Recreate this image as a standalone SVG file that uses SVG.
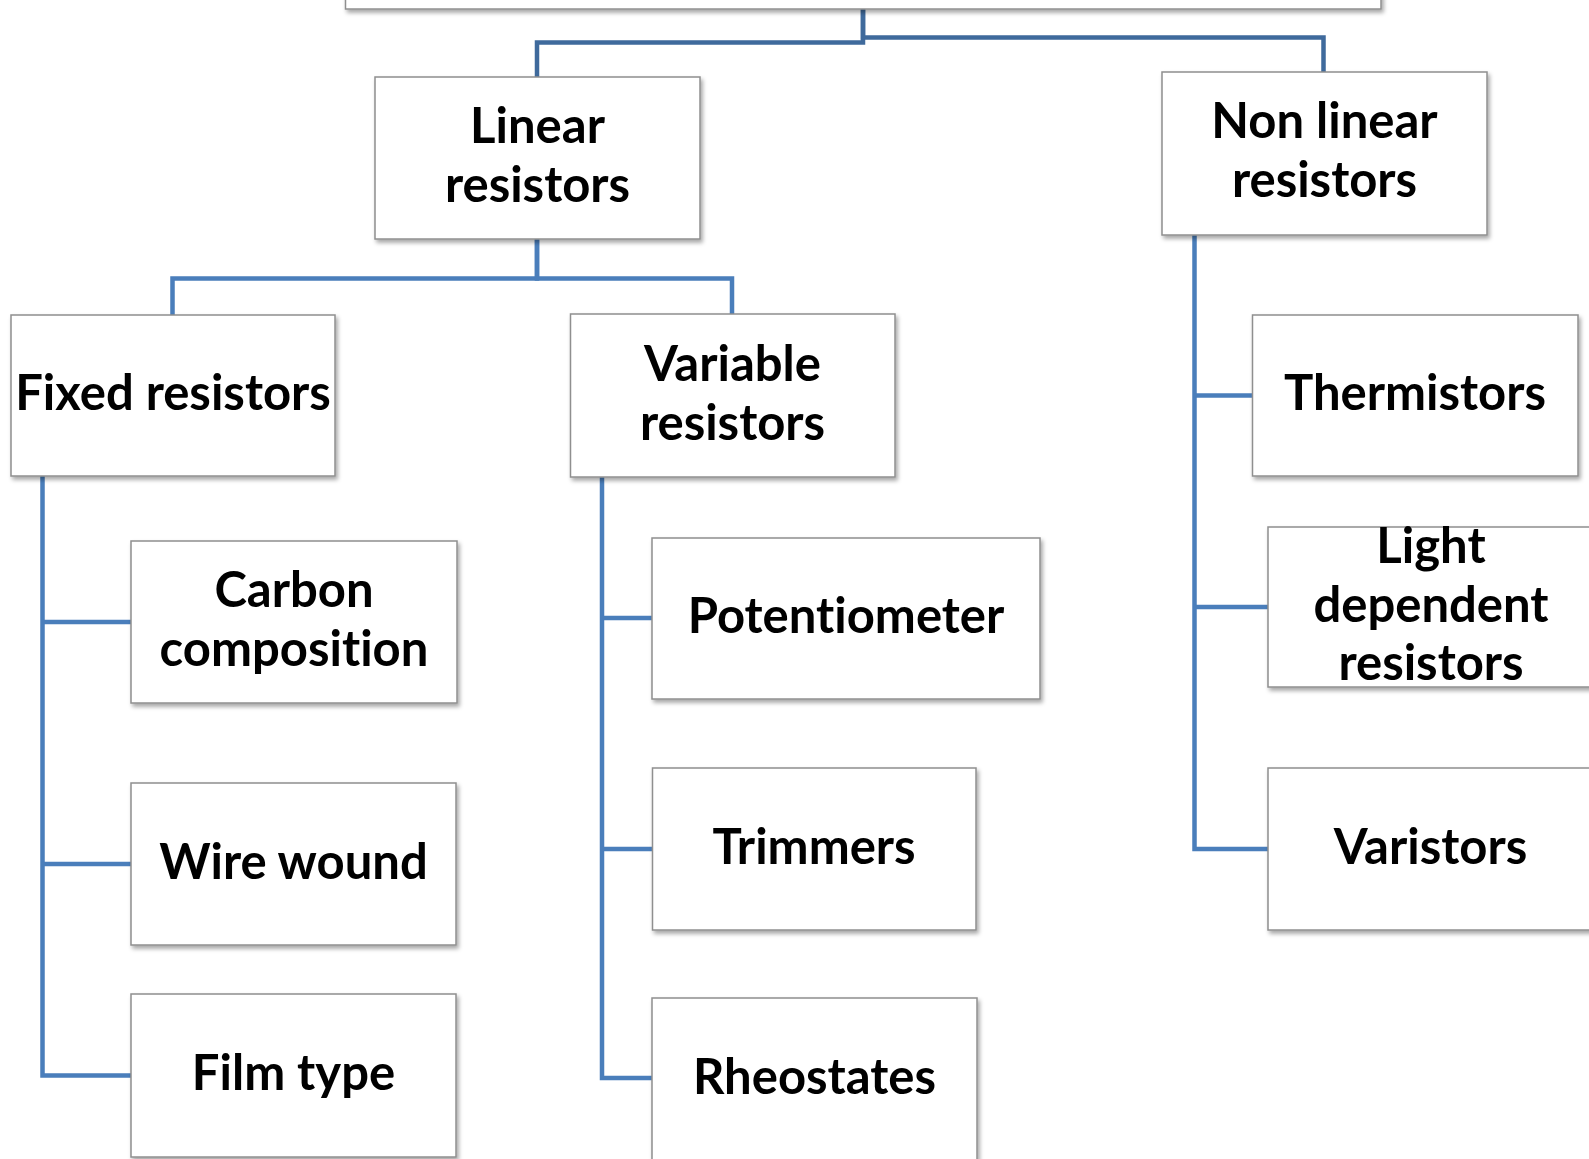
<svg xmlns="http://www.w3.org/2000/svg" width="1589" height="1159" viewBox="0 0 1589 1159">
<defs>
<filter id="sh" x="-10%" y="-10%" width="120%" height="130%">
<feDropShadow dx="2" dy="3" stdDeviation="2" flood-color="#000" flood-opacity="0.35"/>
</filter>
<style>
.box{fill:#ffffff;stroke:#8f8f8f;stroke-width:1.5;filter:url(#sh)}
.t{font-family:Lato,"Open Sans","Liberation Sans",sans-serif;font-weight:bold;font-size:49px;fill:#000;text-anchor:middle;font-variant-ligatures:none;font-feature-settings:"liga" 0,"clig" 0}
.c{fill:none;stroke:#4a7ebb;stroke-width:4.5;stroke-linejoin:miter}
.c0{fill:none;stroke:#3f6a9c;stroke-width:4.5}
</style>
</defs>
<rect width="1589" height="1159" fill="#ffffff"/>
<g id="connectors">
<path class="c0" d="M863 9 V42.5 H537 V77"/>
<path class="c0" d="M863 9 V37.5 H1323.5 V72"/>
<path class="c" d="M537 239 V278.5 H172.5 V315"/>
<path class="c" d="M537 239 V278.5 H732 V314"/>
<path class="c" d="M42.5 476 V1075.5 H131"/>
<path class="c" d="M42.5 622 H131"/>
<path class="c" d="M42.5 864 H131"/>
<path class="c" d="M602 477 V1078 H652"/>
<path class="c" d="M602 618 H652"/>
<path class="c" d="M602 849 H652"/>
<path class="c" d="M1194.5 235 V849 H1268"/>
<path class="c" d="M1194.5 395.5 H1252.5"/>
<path class="c" d="M1194.5 607 H1268"/>
</g>
<g id="root"><rect class="box" x="345.5" y="-60" width="1035.5" height="69"/></g>
<g id="linear"><rect class="box" x="375" y="77" width="325" height="162"/>
<text class="t" x="537.5" y="143">Linear</text><text class="t" x="537.5" y="202">resistors</text></g>
<g id="nonlinear"><rect class="box" x="1162" y="72" width="325" height="163"/>
<text class="t" x="1324.5" y="138">Non linear</text><text class="t" x="1324.5" y="197">resistors</text></g>
<g id="fixed"><rect class="box" x="11" y="315" width="324" height="161"/>
<text class="t" x="173" y="410">Fixed resistors</text></g>
<g id="variable"><rect class="box" x="570.5" y="314" width="324.5" height="163"/>
<text class="t" x="732.5" y="380.5">Variable</text><text class="t" x="732.5" y="439.5">resistors</text></g>
<g id="carbon"><rect class="box" x="131" y="541" width="326" height="162"/>
<text class="t" x="294" y="607">Carbon</text><text class="t" x="294" y="666">composition</text></g>
<g id="wire"><rect class="box" x="131" y="783" width="325" height="162"/>
<text class="t" x="293.5" y="878.5">Wire wound</text></g>
<g id="film"><rect class="box" x="131" y="994" width="325" height="163"/>
<text class="t" x="293.5" y="1090">Film type</text></g>
<g id="potentiometer"><rect class="box" x="652" y="538" width="388" height="161"/>
<text class="t" x="846" y="633">Potentiometer</text></g>
<g id="trimmers"><rect class="box" x="652.5" y="768" width="323.5" height="162"/>
<text class="t" x="814" y="863.5">Trimmers</text></g>
<g id="rheostates"><rect class="box" x="652" y="998" width="325" height="200"/>
<text class="t" x="814.5" y="1093.5">Rheostates</text></g>
<g id="thermistors"><rect class="box" x="1252.5" y="315" width="325.5" height="161"/>
<text class="t" x="1415" y="410">Thermistors</text></g>
<g id="ldr"><rect class="box" x="1268" y="527" width="325" height="160"/>
<text class="t" x="1431" y="563">Light</text><text class="t" x="1431" y="622">dependent</text><text class="t" x="1431" y="680">resistors</text></g>
<g id="varistors"><rect class="box" x="1268" y="768" width="325" height="162"/>
<text class="t" x="1430.5" y="863.5">Varistors</text></g>
</svg>
